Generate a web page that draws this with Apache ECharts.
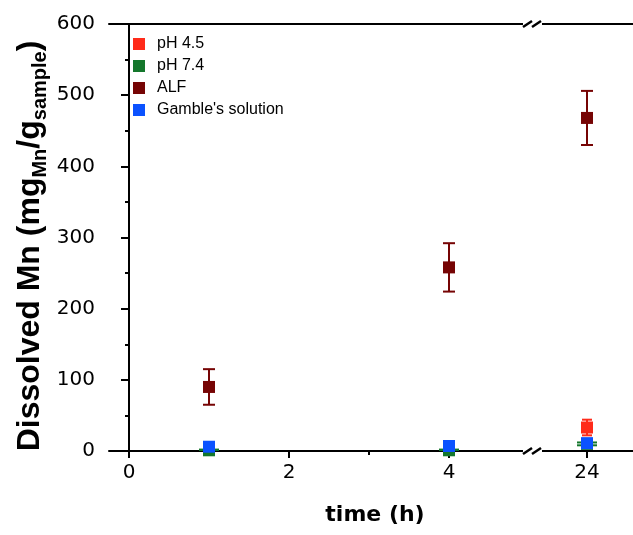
<!DOCTYPE html>
<html><head><meta charset="utf-8">
<script src="https://cdn.jsdelivr.net/npm/echarts@6/dist/echarts.min.js"></script>
<style>html,body{margin:0;padding:0;background:#fff}#c{width:633px;height:535px}</style>
</head><body><div id="c"></div>
<script>
// ---- data ----
const seriesNames = ['pH 4.5', 'pH 7.4', 'ALF', "Gamble's solution"];
const times = [1, 4, 24];
const ph45 = [3, 3, 33];
const ph45Err = [1, 1, 11];
const ph74 = [1, 1, 10];
const ph74Err = [1, 1, 2];
const alf = [90, 258, 468];
const alfErr = [25, 34, 38];
const gamble = [6, 7, 11];
const gambleErr = [1.5, 2, 6];
const xMajorTicks = [0, 2, 4];
const xMinorTicks = [1, 3];
const xAfterBreakTicks = [24];
const yMin = 0, yMax = 600, yStep = 100;

// ---- styles ----
const colors = ['#ff2b1a', '#14772c', '#760404', '#0b52ff'];
const capHalf = [5, 10, 6, 5];
const vals = [ph45, ph74, alf, gamble];
const errs = [ph45Err, ph74Err, alfErr, gambleErr];

const chart = echarts.init(document.getElementById('c'), null, {renderer: 'canvas'});
const black = '#000';
const lineStyle = {color: black, width: 2};

function makeErr(color, half) {
  return function (params, api) {
    const x = api.value(0), lo = api.value(2), hi = api.value(3);
    const top = api.coord([x, hi]), bot = api.coord([x, lo]);
    const st = {stroke: color, lineWidth: 2};
    return {type: 'group', children: [
      {type: 'line', shape: {x1: top[0], y1: top[1], x2: bot[0], y2: bot[1]}, style: st},
      {type: 'line', shape: {x1: top[0] - half, y1: top[1], x2: top[0] + half, y2: top[1]}, style: st},
      {type: 'line', shape: {x1: bot[0] - half, y1: bot[1], x2: bot[0] + half, y2: bot[1]}, style: st}
    ]};
  };
}

const series = [];
seriesNames.forEach((name, k) => {
  [[0, 0, t => t <= 4], [1, 3, t => t > 4]].forEach(([g, xi, f]) => {
    const pts = times.map((t, i) => [t, vals[k][i], vals[k][i] - errs[k][i], vals[k][i] + errs[k][i]])
      .filter(p => f(p[0]));
    series.push({
      type: 'custom', name: name, xAxisIndex: xi, yAxisIndex: g, data: pts,
      encode: {x: 0, y: [1, 2, 3]}, renderItem: makeErr(colors[k], capHalf[k]),
      clip: true, silent: true, z: 2
    });
    series.push({
      type: 'scatter', name: name, xAxisIndex: xi, yAxisIndex: g,
      data: pts.map(p => [p[0], p[1]]), symbol: 'rect', symbolSize: 12,
      itemStyle: {color: colors[k], opacity: 1}, clip: true, silent: true, z: 2
    });
  });
});

const L = 109, T = 24, H = 427, BRK = 533;
const tickFont = {fontFamily: 'DejaVu Sans', fontSize: 20, color: black};

const option = {
  animation: false,
  backgroundColor: '#fff',
  grid: [
    {left: L, top: T, width: BRK - L, height: H},
    {left: BRK, top: T, width: 633 - BRK, height: H}
  ],
  xAxis: [
    {gridIndex: 0, type: 'value', position: 'bottom', min: -0.25, max: 5.05,
     axisLine: {lineStyle: lineStyle},
     axisTick: {customValues: xMajorTicks, length: 7, lineStyle: lineStyle},
     axisLabel: Object.assign({customValues: xMajorTicks, margin: 12}, tickFont),
     splitLine: {show: false}},
    {gridIndex: 0, type: 'value', position: 'bottom', min: -0.25, max: 5.05,
     axisLine: {show: false},
     axisTick: {customValues: xMinorTicks, length: 4, lineStyle: lineStyle},
     axisLabel: {show: false}, splitLine: {show: false}},
    {gridIndex: 0, type: 'value', position: 'top', min: -0.25, max: 5.05,
     axisLine: {lineStyle: lineStyle}, axisTick: {show: false},
     axisLabel: {show: false}, splitLine: {show: false}},
    {gridIndex: 1, type: 'value', position: 'bottom', min: 23.325, max: 24.575,
     axisLine: {lineStyle: lineStyle},
     axisTick: {customValues: xAfterBreakTicks, length: 7, lineStyle: lineStyle},
     axisLabel: Object.assign({customValues: xAfterBreakTicks, margin: 12}, tickFont),
     splitLine: {show: false}},
    {gridIndex: 1, type: 'value', position: 'top', min: 23.325, max: 24.575,
     axisLine: {lineStyle: lineStyle}, axisTick: {show: false},
     axisLabel: {show: false}, splitLine: {show: false}}
  ],
  yAxis: [
    {gridIndex: 0, type: 'value', min: yMin, max: yMax, interval: yStep,
     axisLine: {show: true, lineStyle: lineStyle},
     axisTick: {show: true, length: 8, lineStyle: lineStyle},
     minorTick: {show: true, splitNumber: 2, length: 4, lineStyle: lineStyle},
     axisLabel: Object.assign({margin: 14}, tickFont),
     splitLine: {show: false}, minorSplitLine: {show: false}},
    {gridIndex: 1, type: 'value', min: yMin, max: yMax, show: false, splitLine: {show: false}}
  ],
  legend: {
    orient: 'vertical', left: 128, top: 31, itemWidth: 12, itemHeight: 12, itemGap: 6,
    icon: 'rect', selectedMode: false,
    data: seriesNames.map((n, k) => ({name: n, itemStyle: {color: colors[k], opacity: 1}})),
    textStyle: {fontFamily: 'Liberation Sans', fontSize: 16, color: black, padding: [0, 0, 0, 7]}
  },
  graphic: [
    {type: 'text', x: 30, y: 246, rotation: Math.PI / 2, z: 100,
     style: {
       text: '{a|Dissolved Mn (mg}{b|Mn}{a|/g}{b|sample}{a|)}',
       align: 'center', verticalAlign: 'middle', textAlign: 'center', textVerticalAlign: 'middle',
       fill: black,
       rich: {
         a: {fontFamily: 'Liberation Sans', fontWeight: 'bold', fontSize: 32, lineHeight: 40, fill: black, color: black},
         b: {fontFamily: 'Liberation Sans', fontWeight: 'bold', fontSize: 20, lineHeight: 20, verticalAlign: 'bottom', fill: black, color: black}
       }
     }},
    {type: 'text', x: 375, y: 515, z: 100,
     style: {text: 'time (h)', fontFamily: 'DejaVu Sans', fontWeight: 'bold', fontSize: 22,
             align: 'center', verticalAlign: 'middle', textAlign: 'center', textVerticalAlign: 'middle', fill: black}},
    // axis break marks
    {type: 'rect', z: 100, shape: {x: 523, y: 448, width: 19, height: 6}, style: {fill: '#fff'}},
    {type: 'rect', z: 100, shape: {x: 523, y: 21, width: 19, height: 6}, style: {fill: '#fff'}},
    {type: 'line', z: 101, shape: {x1: 523, y1: 454, x2: 532, y2: 448}, style: {stroke: black, lineWidth: 2.5}},
    {type: 'line', z: 101, shape: {x1: 532, y1: 454, x2: 541, y2: 448}, style: {stroke: black, lineWidth: 2.5}},
    {type: 'line', z: 101, shape: {x1: 523, y1: 27, x2: 532, y2: 21}, style: {stroke: black, lineWidth: 2.5}},
    {type: 'line', z: 101, shape: {x1: 532, y1: 27, x2: 541, y2: 21}, style: {stroke: black, lineWidth: 2.5}}
  ],
  series: series
};
chart.setOption(option);
</script>
</body></html>
